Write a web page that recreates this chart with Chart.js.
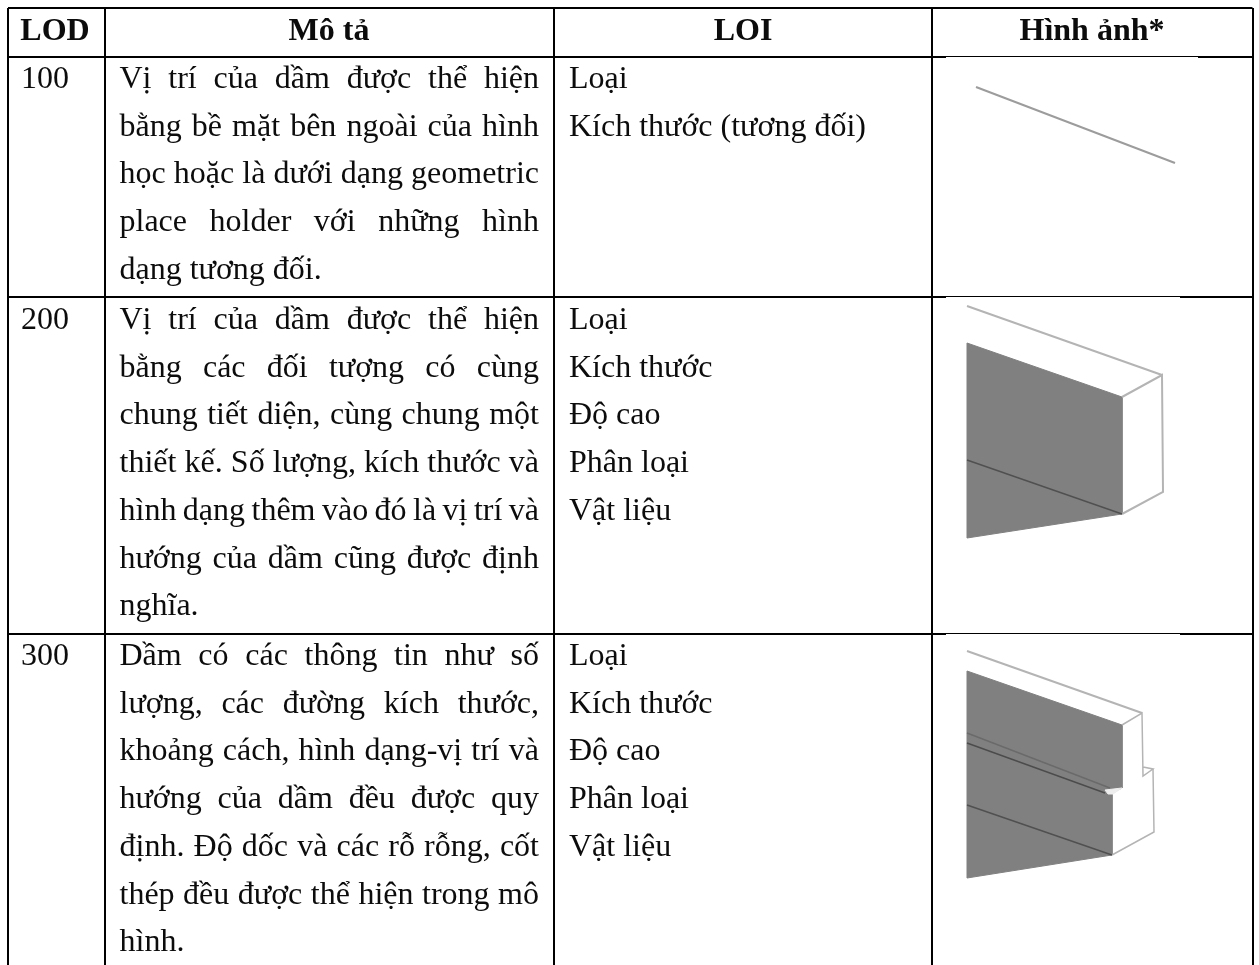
<!DOCTYPE html>
<html lang="vi">
<head>
<meta charset="utf-8">
<title>LOD dầm</title>
<script src="https://cdn.jsdelivr.net/npm/chart.js@4"></script>
<style>
  html, body { margin: 0; padding: 0; background: #fff; }
  canvas { display: block; }
</style>
</head>
<body>
<canvas id="bang" width="1259" height="965"></canvas>
<script>
// noi dung bang
const tieuDe = ['LOD', 'Mô tả', 'LOI', 'Hình ảnh*'];
const lod = ['100', '200', '300'];

const moTa100 = [
  'Vị trí của dầm được thể hiện',
  'bằng bề mặt bên ngoài của hình',
  'học hoặc là dưới dạng geometric',
  'place holder với những hình',
  'dạng tương đối.'
];
const moTa200 = [
  'Vị trí của dầm được thể hiện',
  'bằng các đối tượng có cùng',
  'chung tiết diện, cùng chung một',
  'thiết kế. Số lượng, kích thước và',
  'hình dạng thêm vào đó là vị trí và',
  'hướng của dầm cũng được định',
  'nghĩa.'
];
const moTa300 = [
  'Dầm có các thông tin như số',
  'lượng, các đường kích thước,',
  'khoảng cách, hình dạng-vị trí và',
  'hướng của dầm đều được quy',
  'định. Độ dốc và các rỗ rỗng, cốt',
  'thép đều được thể hiện trong mô',
  'hình.'
];

const loi100 = ['Loại', 'Kích thước (tương đối)'];
const loi200 = ['Loại', 'Kích thước', 'Độ cao', 'Phân loại', 'Vật liệu'];
const loi300 = ['Loại', 'Kích thước', 'Độ cao', 'Phân loại', 'Vật liệu'];

// duong ke bang
const cotX = [7.5, 105, 553.5, 932, 1252.5];
const hangY = [8, 57, 297, 634];

// hinh ve dam, doc tu anh
const dam100 = [[976, 87], [1175, 163]];

const dam200Mat = [[967, 343], [1122, 397], [1122, 514], [967, 538]];
const dam200Tren = [[967, 306], [1162, 375]];
const dam200Vien = [[1122, 397], [1162, 375], [1163, 492], [1122, 514]];
const dam200Gach = [[967, 460], [1122, 514]];

const dam300Mat = [[967, 671], [1122, 725], [1122, 788], [1112, 793], [1112, 855], [967, 878]];
const dam300Tren = [[967, 651], [1142, 713]];
const dam300Vien = [[1122, 725], [1142, 713], [1143, 776], [1153, 769], [1143, 767]];
const dam300Vien2 = [[1153, 769], [1154, 832], [1112, 855]];
const dam300GachSang = [[967, 733], [1110, 788]];
const dam300GachToi = [[967, 743], [1105, 793]];
const dam300Gach = [[967, 805], [1112, 855]];
const dam300Sang = [[1105, 790], [1122, 788], [1113, 794], [1108, 794]];

// phan anh de len duong ke nen duong mong hon
const che1 = [[946, 57.5], [1198, 57.5]];
const che2 = [[946, 297.5], [1180, 297.5]];
const che3 = [[946, 634.5], [1180, 634.5]];

function diem(ds) {
  return ds.map(p => ({ x: p[0], y: p[1] }));
}

function duong(ds, mau, day) {
  return { data: diem(ds), showLine: true, borderColor: mau, borderWidth: day, pointRadius: 0, fill: false, tension: 0 };
}

function mat(ds, mau) {
  return { data: diem(ds.concat([ds[0]])), showLine: true, borderColor: mau, borderWidth: 1, backgroundColor: mau, pointRadius: 0, fill: 'shape', tension: 0 };
}

// thu tu ve: phan tu sau nam tren
const lop = [
  duong(che1, '#fff', 1),
  duong(che2, '#fff', 1),
  duong(che3, '#fff', 1),
  duong(dam100, '#9c9c9c', 2),
  duong(dam200Tren, '#b4b4b4', 2),
  mat(dam200Mat, '#808080'),
  duong(dam200Vien, '#b4b4b4', 2),
  duong(dam200Gach, '#505050', 1.5),
  duong(dam300Tren, '#b4b4b4', 2),
  mat(dam300Mat, '#808080'),
  duong(dam300Vien, '#b4b4b4', 1.5),
  duong(dam300Vien2, '#b4b4b4', 1.5),
  duong(dam300GachSang, '#6a6a6a', 1.5),
  duong(dam300GachToi, '#4c4c4c', 1.5),
  duong(dam300Gach, '#505050', 1.5),
  mat(dam300Sang, '#eeeeee')
];
lop.forEach((d, i) => { d.order = lop.length - i; d.clip = false; });

const coChu = 32;
const buocDong = 47.7;
const dongDau = [88, 329, 665];

function veDong(ctx, dong, trai, phai, y, canDeu) {
  const tu = dong.split(' ');
  if (!canDeu || tu.length < 2) {
    ctx.fillText(dong, trai, y);
    return;
  }
  const rong = tu.reduce((t, w) => t + ctx.measureText(w).width, 0);
  const cach = (phai - trai - rong) / (tu.length - 1);
  let x = trai;
  tu.forEach(w => {
    ctx.fillText(w, x, y);
    x += ctx.measureText(w).width + cach;
  });
}

const veChu = {
  id: 'veChu',
  afterDatasetsDraw(chart) {
    const { ctx, scales } = chart;
    const sx = scales.x, sy = scales.y;
    ctx.save();
    ctx.fillStyle = '#0c0c0c';
    ctx.textBaseline = 'alphabetic';

    ctx.font = 'bold ' + coChu + 'px "Liberation Serif"';
    ctx.textAlign = 'center';
    const giua = [55, 329, 743, 1092];
    tieuDe.forEach((t, i) => ctx.fillText(t, sx.getPixelForValue(giua[i]), sy.getPixelForValue(39.5)));

    ctx.font = coChu + 'px "Liberation Serif"';
    lod.forEach((t, i) => ctx.fillText(t, sx.getPixelForValue(45), sy.getPixelForValue(dongDau[i])));

    ctx.textAlign = 'left';
    [moTa100, moTa200, moTa300].forEach((ds, i) => {
      ds.forEach((dong, k) => {
        const y = sy.getPixelForValue(dongDau[i] + k * buocDong);
        veDong(ctx, dong, sx.getPixelForValue(119.5), sx.getPixelForValue(539), y, k < ds.length - 1);
      });
    });
    [loi100, loi200, loi300].forEach((ds, i) => {
      ds.forEach((dong, k) => {
        ctx.fillText(dong, sx.getPixelForValue(569), sy.getPixelForValue(dongDau[i] + k * buocDong));
      });
    });
    ctx.restore();
  }
};

function ke(scale, ds) {
  scale.ticks = ds.map(v => ({ value: v }));
}

new Chart(document.getElementById('bang'), {
  type: 'scatter',
  data: { datasets: lop },
  plugins: [veChu],
  options: {
    responsive: false,
    animation: false,
    layout: { padding: { left: 7.5, right: 6.5, top: 8, bottom: 0 } },
    plugins: { legend: { display: false }, tooltip: { enabled: false } },
    scales: {
      x: {
        type: 'linear', min: 7.5, max: 1252.5,
        afterBuildTicks: s => ke(s, cotX),
        grid: { color: '#000', lineWidth: 2, drawTicks: false },
        border: { display: false },
        ticks: { display: false }
      },
      y: {
        type: 'linear', reverse: true, min: 8, max: 965,
        afterBuildTicks: s => ke(s, hangY),
        grid: { color: '#000', lineWidth: 2, drawTicks: false },
        border: { display: false },
        ticks: { display: false }
      }
    }
  }
});
</script>
</body>
</html>
